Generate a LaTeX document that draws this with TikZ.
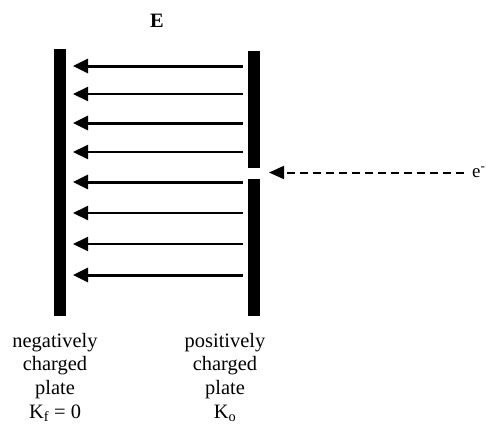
\documentclass[tikz,border=0pt]{standalone}
\usepackage{fontspec}
\setmainfont{Liberation Serif}
\usetikzlibrary{arrows.meta}
\usetikzlibrary{positioning}

\begin{document}
\begin{tikzpicture}[x=1bp, y=-1bp,
	plate/.style={fill=black, inner sep=0pt, minimum width=12bp},
	label/.style={align=center, inner sep=0pt, font=\fontsize{20.5}{23.7}\selectfont},
	field/.style={-{Triangle[length=15bp, width=14bp]}},
	beam/.style={-{Triangle[length=15bp, width=13bp]}, line width=2bp, dash pattern=on 8bp off 5bp}]
	\useasboundingbox (0,0) rectangle (486,428);
	\node[plate, minimum height=267bp] (neg) at (60,182.5) {};
	\node[plate, minimum height=117bp] (posup) at (254,109.5) {};
	\node[plate, minimum height=137bp] (poslow) at (254,247.5) {};
	\node[label, font=\fontsize{20.5}{23.7}\selectfont\bfseries] (E) at (157,21) {E};
	% field lines between the plates
	\foreach \i/\y/\w in {1/66/3, 2/94/2, 3/123/3, 4/152/2, 5/182/3, 6/213/2, 7/244/2, 8/275/3} {
		\coordinate (s\i) at (243,\y);
		\coordinate (t\i) at (73,\y);
		\draw[field, line width=\w bp] (s\i) -- (t\i);
	}
	% incoming electron
	\node[label, anchor=base west, font=\fontsize{19}{22}\selectfont] (el) at (472,177) {e\textsuperscript{-}};
	\coordinate (estart) at (464,172.5);
	\coordinate (hole) at (269,172.5);
	\draw[beam] (estart) -- (hole);
	\node[label, anchor=north] (negtext) at (55,333) {negatively\\charged\\plate\\K\textsubscript{f} = 0};
	\node[label, anchor=north] (postext) at (225,333) {positively\\charged\\plate\\K\textsubscript{o}};
\end{tikzpicture}
\end{document}
